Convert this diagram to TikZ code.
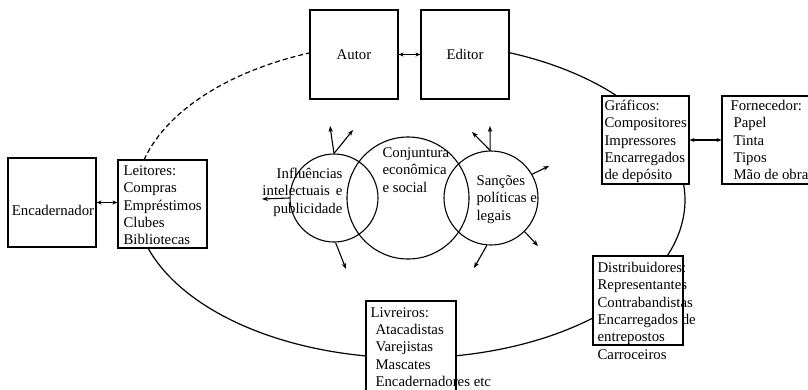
\documentclass[tikz,border=0pt]{standalone}
\usepackage{fontspec}
\setmainfont{Liberation Serif}
\usetikzlibrary{arrows.meta}
\newcommand\dfont{\fontsize{14.8}{17.3}\selectfont}
\begin{document}
\begin{tikzpicture}[x=1pt,y=-1pt,
  line width=1.1pt,
  box/.style={draw, fill=white, inner sep=0pt, font=\dfont},
  txt/.style={inner sep=0pt, anchor=north west, align=left, font=\dfont},
  circ/.style={draw, circle, inner sep=0pt},
  tip/.style={-{Stealth[length=6pt,width=4.5pt]}},
  dbl/.style={{Stealth[length=5pt,width=4pt]}-{Stealth[length=5pt,width=4pt]}},
  oval/.style={line width=1.2pt}]
\useasboundingbox (0,0) rectangle (808,389);
\clip (0,0) rectangle (808,389);
% ellipse cycle
\draw[oval] plot[domain=-68.9:162.3, samples=150, smooth] ({410+275*cos(\x)},{200+158*sin(\x)});
\draw[oval, dashed, dash pattern=on 5pt off 3pt] plot[domain=194.7:248.6, samples=60, smooth] ({410+275*cos(\x)},{200+158*sin(\x)});
% boxes
\node[box, minimum width=88, minimum height=89] (autor) at (354,54.5) {Autor};
\node[box, minimum width=88, minimum height=89] (editor) at (465,54.5) {Editor};
\node[box, minimum width=88, minimum height=89] (encad) at (52,202.5) {};
\node[box, minimum width=89, minimum height=88] (leit) at (162.5,204) {};
\node[box, minimum width=87, minimum height=88] (graf) at (645.5,140) {};
\node[box, minimum width=89, minimum height=88] (forn) at (766.5,140) {};
\node[box, minimum width=90, minimum height=89] (dist) at (638,300.5) {};
\node[box, minimum width=90, minimum height=91] (livr) at (411,346.5) {};
% box texts
\node[inner sep=0pt, font=\dfont] (encadT) at (53,210) {Encadernador};
\node[txt] (leitT) at (123,163) {\strut Leitores:\\Compras\\Empréstimos\\Clubes\\Bibliotecas};
\node[txt] (grafT) at (604,98) {\strut Gráficos:\\Compositores\\Impressores\\Encarregados\\de depósito};
\node[txt] (fornT) at (730,98) {\strut Fornecedor:\\\hspace*{3pt}Papel\\\hspace*{3pt}Tinta\\\hspace*{3pt}Tipos\\\hspace*{3pt}Mão de obra};
\node[txt] (distT) at (597,260) {\strut Distribuidores:\\Representantes\\Contrabandistas\\Encarregados de\\entrepostos\\Carroceiros};
\node[txt] (livrT) at (370,304.5) {\strut Livreiros:\\\hspace*{5pt}Atacadistas\\\hspace*{5pt}Varejistas\\\hspace*{5pt}Mascates\\\hspace*{5pt}Encadernadores etc};
% double arrows
\draw[dbl] (autor.east) -- (editor.west);
\draw[dbl] (encad.east) -- (encad.east -| leit.west);
\draw[dbl] (graf.east) -- (graf.east -| forn.west);
% circles
\node[circ, minimum size=88] (infl) at (334,198) {};
\node[circ, minimum size=122] (conj) at (408,198) {};
\node[circ, minimum size=94] (sanc) at (491,198) {};
\node[txt, anchor=north east, align=right] (inflT) at (343,166) {\strut Influências\\intelectuais\hspace{6pt}e\\publicidade};
\node[txt] (conjT) at (382,145) {\strut Conjuntura\\econômica\\e social};
\node[txt] (sancT) at (476,173) {\strut Sanções\\políticas e\\legais};
% arrows from circles
\coordinate (i1) at (330,126);
\coordinate (i2) at (353,130);
\coordinate (i3) at (262,199);
\coordinate (i4) at (346,269);
\coordinate (s1) at (490,126);
\coordinate (s2) at (472,132);
\coordinate (s3) at (549,166);
\coordinate (s4) at (538,246);
\coordinate (s5) at (474,268);
\draw[tip] (infl.90) -- (i1);
\draw[tip] (infl.90) -- (i2);
\draw[tip] (infl.180) -- (i3);
\draw[tip] (infl.-88) -- (i4);
\draw[tip] (sanc.91) -- (s1);
\draw[tip] (sanc.91) -- (s2);
\draw[tip] (sanc.30) -- (s3);
\draw[tip] (sanc.-45) -- (s4);
\draw[tip] (sanc.-95) -- (s5);
\end{tikzpicture}
\end{document}
